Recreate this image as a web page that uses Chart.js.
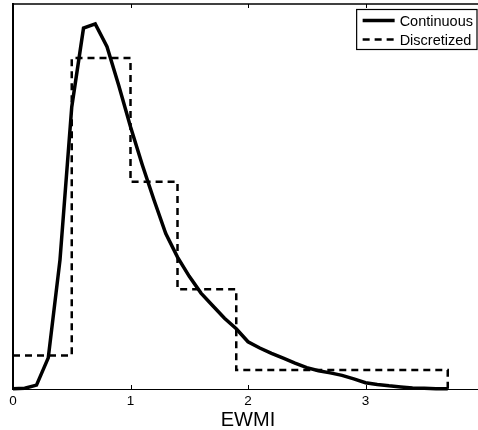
<!DOCTYPE html>
<html>
<head>
<meta charset="utf-8">
<script src="https://cdn.jsdelivr.net/npm/chart.js@4/dist/chart.umd.min.js"></script>
<style>
  html, body { margin: 0; padding: 0; background: #fff; overflow: hidden; }
  #wrap { width: 478px; height: 430px; overflow: hidden; }
  canvas { display: block; }
</style>
</head>
<body>
<div id="wrap"><canvas id="ewmiChart" width="487" height="430"></canvas></div>
<script>
// EWMI density, continuous estimate
const xValues = [0, 0.1, 0.2, 0.3, 0.4, 0.5, 0.6, 0.7, 0.8, 0.9,
  1.0, 1.1, 1.2, 1.3, 1.4, 1.5, 1.6, 1.7, 1.8, 1.9,
  2.0, 2.1, 2.2, 2.3, 2.4, 2.5, 2.6, 2.7, 2.8, 2.9,
  3.0, 3.1, 3.2, 3.3, 3.4, 3.5, 3.6, 3.7];
const continuousValues = [0.001, 0.002, 0.011, 0.089, 0.369, 0.806, 1.031, 1.043, 0.978, 0.867,
  0.749, 0.641, 0.540, 0.444, 0.377, 0.322, 0.274, 0.238, 0.202, 0.172,
  0.135, 0.117, 0.102, 0.088, 0.074, 0.061, 0.052, 0.046, 0.039, 0.029,
  0.018, 0.013, 0.009, 0.006, 0.003, 0.002, 0.001, 0.001];

// discretized version (bins)
const binEdges = [0, 0.5, 1.0, 1.4, 1.9, 3.7];
const binHeights = [0.096, 0.946, 0.592, 0.285, 0.054];

const xTickValues = [0, 1, 2, 3];
const xTickLabels = ["0", "1", "2", "3"];
const seriesNames = ["Continuous", "Discretized"];

const FONT = "'Liberation Sans', Arial, Helvetica, sans-serif";

const continuousPoints = xValues.map((x, i) => ({ x: x, y: continuousValues[i] }));
const stepPoints = [];
binHeights.forEach((h, i) => {
  stepPoints.push({ x: binEdges[i], y: h });
  stepPoints.push({ x: binEdges[i + 1], y: h });
});
stepPoints.push({ x: binEdges[binEdges.length - 1], y: 0 });

const matlabFrame = {
  id: "matlabFrame",
  afterDraw(chart) {
    const { ctx, chartArea: a, scales } = chart;
    const x = scales.x;
    ctx.save();
    // top border
    ctx.strokeStyle = "#000";
    ctx.lineWidth = 1.5;
    ctx.beginPath();
    ctx.moveTo(a.left, a.top);
    ctx.lineTo(a.right + 5, a.top);
    ctx.stroke();
    // inward ticks top and bottom
    ctx.lineWidth = 1;
    xTickValues.forEach((v) => {
      const px = Math.round(x.getPixelForValue(v)) + 0.5;
      ctx.beginPath();
      ctx.moveTo(px, a.bottom);
      ctx.lineTo(px, a.bottom - 4);
      ctx.moveTo(px, a.top);
      ctx.lineTo(px, a.top + 4);
      ctx.stroke();
    });

    // legend box, top right inside the axes
    ctx.font = "14.5px " + FONT;
    const textW = Math.max(...seriesNames.map((s) => ctx.measureText(s).width));
    const boxR = a.right - 6;
    const boxT = a.top + 5.5;
    const boxW = 6 + 32 + 5 + textW + 4;
    const boxH = 40;
    const boxL = boxR - boxW;
    ctx.fillStyle = "#fff";
    ctx.fillRect(boxL, boxT, boxW, boxH);
    ctx.lineWidth = 1.2;
    ctx.strokeStyle = "#000";
    ctx.strokeRect(boxL, boxT, boxW, boxH);

    chart.data.datasets.forEach((ds, i) => {
      const y = boxT + 11 + i * 19;
      ctx.beginPath();
      ctx.lineWidth = ds.borderWidth;
      ctx.setLineDash(ds.borderDash || []);
      ctx.moveTo(boxL + 6, y);
      ctx.lineTo(boxL + 38, y);
      ctx.stroke();
      ctx.setLineDash([]);
      ctx.fillStyle = "#000";
      ctx.textAlign = "left";
      ctx.textBaseline = "middle";
      ctx.fillText(ds.label, boxL + 43, y + 1);
    });
    ctx.restore();
  },
};

new Chart(document.getElementById("ewmiChart"), {
  type: "scatter",
  data: {
    datasets: [
      {
        label: seriesNames[0],
        data: continuousPoints,
        showLine: true,
        borderColor: "#000",
        borderWidth: 3.5,
        pointRadius: 0,
        tension: 0,
        clip: false,
      },
      {
        label: seriesNames[1],
        data: stepPoints,
        showLine: true,
        borderColor: "#000",
        borderWidth: 2.5,
        borderDash: [7, 5],
        pointRadius: 0,
        tension: 0,
        clip: false,
      },
    ],
  },
  options: {
    responsive: false,
    animation: false,
    layout: { padding: { left: 13, top: 4, right: 4, bottom: 0 } },
    plugins: {
      legend: { display: false },
      tooltip: { enabled: false },
    },
    scales: {
      x: {
        type: "linear",
        min: 0,
        max: 4,
        afterBuildTicks: (scale) => {
          scale.ticks = xTickValues.map((v) => ({ value: v }));
        },
        afterFit: (scale) => {
          scale.height = 41;
        },
        ticks: {
          callback: (value) => xTickLabels[xTickValues.indexOf(value)],
          color: "#000",
          font: { family: FONT, size: 13.5, lineHeight: 1 },
          padding: 6,
          maxRotation: 0,
        },
        grid: { display: false, drawTicks: false },
        border: { display: true, color: "#000", width: 1 },
        title: {
          display: true,
          text: "EWMI",
          color: "#000",
          font: { family: FONT, size: 20, lineHeight: 1 },
          padding: { top: 0, bottom: 0 },
        },
      },
      y: {
        min: 0,
        max: 1.1,
        ticks: { display: false },
        grid: { display: false, drawTicks: false },
        border: { display: true, color: "#000", width: 2 },
      },
    },
  },
  plugins: [matlabFrame],
});
</script>
</body>
</html>
